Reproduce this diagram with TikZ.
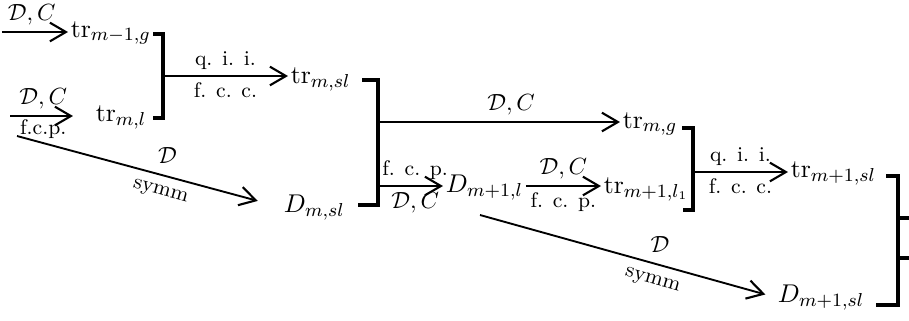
\documentclass[tikz,border=0pt]{standalone}
\usepackage{tikz}
\usetikzlibrary{arrows.meta,calc}

\begin{document}
\begin{tikzpicture}[
    x=0.015cm, y=-0.015cm,
    term/.style={inner sep=1pt, anchor=base west, font=\fontsize{11}{13}\selectfont},
    lbl/.style={font=\small, inner sep=2.5pt},
    mlbl/.style={font=\normalsize, inner sep=2.5pt},
    arrow/.style={-{Straight Barb[length=2.4mm, width=2.8mm, line width=0.9pt]}, line width=0.9pt},
    bracket/.style={line width=1.3pt, line cap=rect}
]
\useasboundingbox (0,0) rectangle (909,320);

% Terms
\node[term] (trA) at (68,37) {$\mathrm{tr}_{m-1,g}$};
\node[term] (trB) at (93,121) {$\mathrm{tr}_{m,l}$};
\node[term] (trC) at (288,83) {$\mathrm{tr}_{m,sl}$};
\node[term] (DA) at (281,212) {$D_{m,sl}$};
\node[term] (trD) at (620,128) {$\mathrm{tr}_{m,g}$};
\node[term] (DB) at (443,192) {$D_{m+1,l}$};
\node[term] (trE) at (601,193) {$\mathrm{tr}_{m+1,l_1}$};
\node[term] (trF) at (788,177) {$\mathrm{tr}_{m+1,sl}$};
\node[term] (DC) at (775,302) {$D_{m+1,sl}$};

% Free ends
\coordinate (inA) at (2,32);
\coordinate (inB) at (10,116);
\coordinate (d1) at (17,136);
\coordinate (d2) at (480,215);

% Brackets
\coordinate (b1) at (163,76);
\coordinate (b2a) at (378,122);
\coordinate (b2b) at (378,186);
\coordinate (b3) at (693,172);
\draw[bracket] (155,34) -- (163,34) -- (163,118) -- (155,118);
\draw[bracket] (364,80) -- (378,80) -- (378,205) -- (360,205);
\draw[bracket] (684,128) -- (693,128) -- (693,210) -- (685,210);
\draw[bracket] (888,176) -- (898,176) -- (898,305) -- (878,305);
\draw[bracket] (898,218) -- (909,218);
\draw[bracket] (898,258) -- (909,258);

% Arrows
\draw[arrow] (inA) -- node[mlbl, above, pos=0.45] {$\mathcal{D}, C$} (inA -| trA.west);
\draw[arrow, shorten >=3mm] (inB) -- node[mlbl, above, pos=0.4] {$\mathcal{D}, C$}
    node[lbl, below, pos=0.4, inner sep=1pt] {f.c.p.} (inB -| trB.west);
\draw[arrow, shorten >=3.6mm, line width=0.8pt] (d1) -- node[mlbl, above, pos=0.57, inner sep=5pt] {$\mathcal{D}$}
    node[lbl, below, sloped, pos=0.56, inner sep=4pt] {symm} (DA.west);
\draw[arrow] (b1) -- node[lbl, above] {q. i. i.} node[lbl, below] {f. c. c.} (b1 -| trC.west);
\draw[arrow] (b2a) -- node[mlbl, above, pos=0.55] {$\mathcal{D}, C$} (b2a -| trD.west);
\draw[arrow] (b2b) -- node[lbl, above, xshift=2pt] {f. c. p.} node[mlbl, below, xshift=2pt] {$\mathcal{D}, C$} (b2b -| DB.west);
\draw[arrow] (DB.east |- b2b) -- node[mlbl, above] {$\mathcal{D}, C$} node[lbl, below] {f. c. p.} (b2b -| trE.west);
\draw[arrow] (b3) -- node[lbl, above] {q. i. i.} node[lbl, below] {f. c. c.} (b3 -| trF.west);
\draw[arrow, shorten >=1.5mm, line width=0.8pt] (d2) -- node[mlbl, above, pos=0.61, inner sep=5pt] {$\mathcal{D}$}
    node[lbl, below, sloped, pos=0.6, inner sep=4pt] {symm} (DC.west);

\end{tikzpicture}
\end{document}
